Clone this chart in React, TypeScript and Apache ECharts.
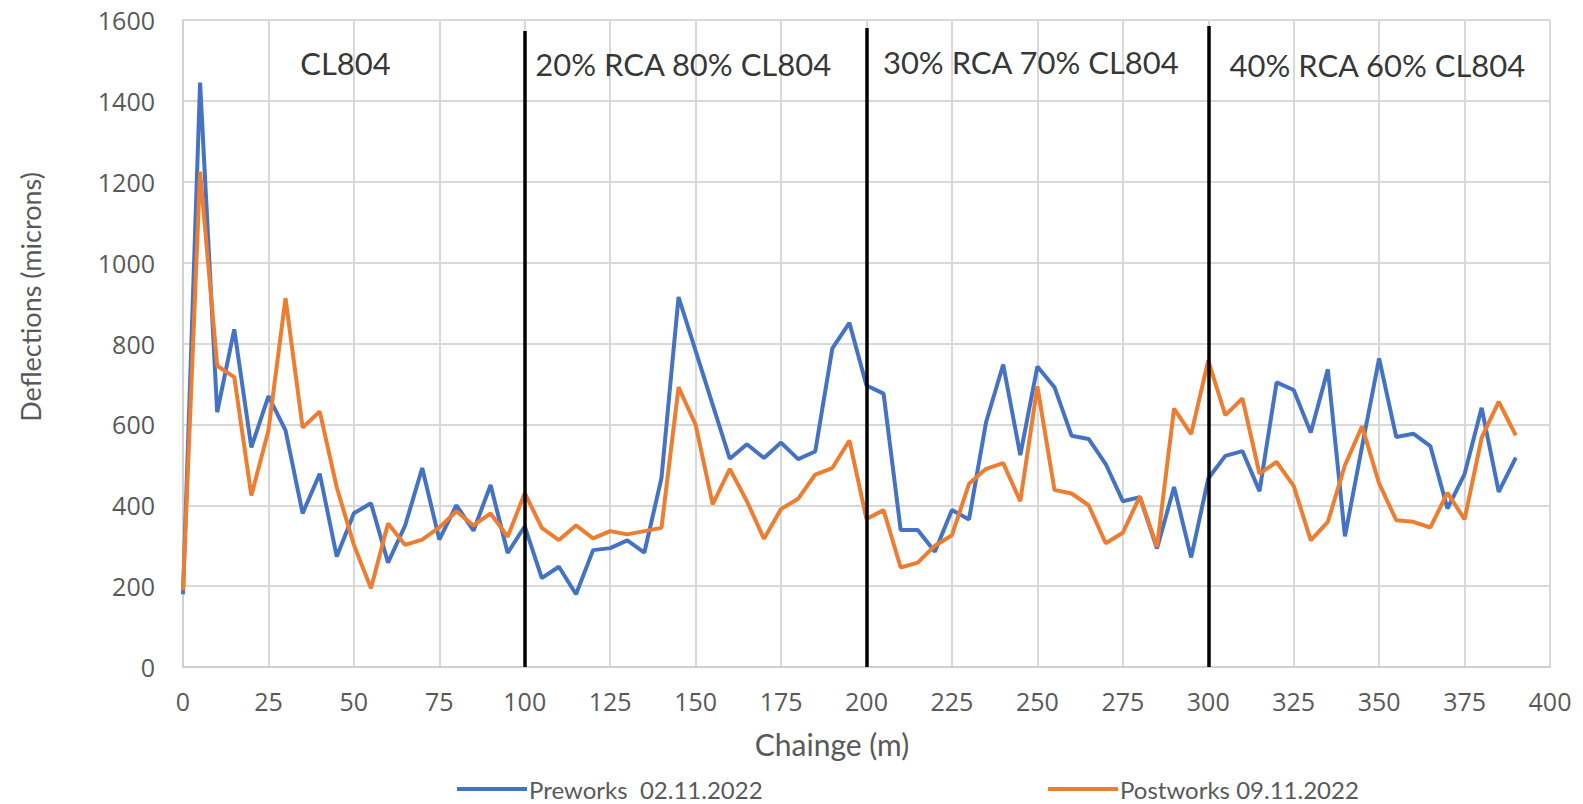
import React, { useEffect, useRef } from "react";
import * as echarts from "echarts";

const chainage: number[] = [
  0, 5, 10, 15, 20, 25, 30, 35, 40, 45, 50, 55, 60, 65, 70, 75, 80, 85, 90, 95,
  100, 105, 110, 115, 120, 125, 130, 135, 140, 145, 150, 155, 160, 165, 170, 175, 180, 185, 190, 195,
  200, 205, 210, 215, 220, 225, 230, 235, 240, 245, 250, 255, 260, 265, 270, 275, 280, 285, 290, 295,
  300, 305, 310, 315, 320, 325, 330, 335, 340, 345, 350, 355, 360, 365, 370, 375, 380, 385, 390,
];

const preworks: number[] = [
  180, 1445, 630, 835, 543, 670, 585, 380, 478, 273, 380, 405, 258, 350, 492, 315, 400, 337, 450, 282,
  348, 220, 248, 180, 289, 294, 313, 283, 467, 915, 782, 648, 515, 551, 517, 555, 514, 533, 788, 851,
  696, 676, 339, 339, 285, 388, 365, 606, 748, 524, 743, 692, 572, 564, 502, 410, 420, 293, 445, 271,
  466, 522, 534, 435, 704, 685, 580, 736, 323, 545, 763, 569, 577, 546, 392, 477, 641, 433, 518,
];

const postworks: number[] = [
  190, 1225, 745, 717, 424, 585, 912, 592, 632, 444, 302, 195, 355, 302, 315, 345, 385, 350, 380, 322,
  430, 344, 314, 350, 318, 336, 328, 336, 344, 692, 599, 402, 490, 410, 317, 391, 416, 476, 492, 560,
  366, 388, 246, 258, 300, 326, 453, 490, 504, 410, 694, 438, 429, 400, 306, 332, 422, 297, 639, 576,
  758, 623, 664, 478, 507, 448, 313, 359, 499, 595, 454, 363, 359, 345, 431, 365, 567, 656, 573,
];

const seriesNames: string[] = ["Preworks  02.11.2022", "Postworks 09.11.2022"];
const sectionDividers: number[] = [100, 200, 300];
const dividerTops: number[] = [1573, 1580, 1585];
const sectionLabels: string[] = ["CL804", "20% RCA 80% CL804", "30% RCA 70% CL804", "40% RCA 60% CL804"];
const sectionLabelX: number[] = [34.3, 103.1, 204.8, 306.2];
const sectionLabelY: number[] = [1493, 1490, 1495, 1488];

const xTicks = { min: 0, max: 400, interval: 25 };
const yTicks = { min: 0, max: 1600, interval: 200 };

export default function App() {
  const ref = useRef<HTMLDivElement>(null);

  useEffect(() => {
    if (!ref.current) return;
    const chart = echarts.init(ref.current, undefined, { renderer: "svg" });
    const tickFont = { fontFamily: "Open Sans", fontSize: 25, color: "#595959" };
    const titleFont = "Lato";
    const legendText = { fontFamily: titleFont, fontSize: 24, color: "#595959", padding: [0, 0, 0, -3] };

    chart.setOption({
      animation: false,
      backgroundColor: "#ffffff",
      grid: { left: 183, right: 33, top: 20, bottom: 137 },
      xAxis: {
        type: "value",
        min: xTicks.min,
        max: xTicks.max,
        interval: xTicks.interval,
        axisLine: { show: true, lineStyle: { color: "#d0d0d0", width: 2 } },
        axisTick: { show: false },
        axisLabel: { ...tickFont, margin: 21, formatter: (v: number) => String(v) },
        splitLine: { show: true, lineStyle: { color: "#d9d9d9", width: 2 } },
      },
      yAxis: {
        type: "value",
        min: yTicks.min,
        max: yTicks.max,
        interval: yTicks.interval,
        axisLine: { show: true, lineStyle: { color: "#d0d0d0", width: 2 } },
        axisTick: { show: false },
        axisLabel: { ...tickFont, margin: 28, formatter: (v: number) => String(v) },
        splitLine: { show: true, lineStyle: { color: "#d9d9d9", width: 2 } },
      },
      legend: [
        {
          data: [seriesNames[0]],
          left: 452,
          top: 772,
          icon: "rect",
          itemWidth: 70,
          itemHeight: 4,
          textStyle: legendText,
        },
        {
          data: [seriesNames[1]],
          left: 1043,
          top: 772,
          icon: "rect",
          itemWidth: 70,
          itemHeight: 4,
          textStyle: legendText,
        },
      ],
      graphic: [
        {
          type: "text",
          x: 30,
          y: 297,
          rotation: Math.PI / 2,
          style: {
            text: "Deflections (microns)",
            fontFamily: titleFont,
            fontSize: 27,
            fill: "#595959",
            textAlign: "center",
            textVerticalAlign: "middle",
          },
        },
        {
          type: "text",
          x: 832,
          y: 744,
          style: {
            text: "Chainge (m)",
            fontFamily: titleFont,
            fontSize: 30,
            fill: "#595959",
            textAlign: "center",
            textVerticalAlign: "middle",
          },
        },
      ],
      series: [
        {
          name: seriesNames[0],
          type: "line",
          data: chainage.map((c, i) => [c, preworks[i]]),
          symbol: "none",
          color: "#4472C4",
          lineStyle: { width: 4, color: "#4472C4" },
          markLine: {
            silent: true,
            symbol: "none",
            lineStyle: { color: "#000000", width: 3.5, type: "solid" },
            label: { show: false },
            data: sectionDividers.map((d, i) => [
              { coord: [d, 0] },
              { coord: [d, dividerTops[i]] },
            ]),
          },
        },
        {
          name: seriesNames[1],
          type: "line",
          data: chainage.map((c, i) => [c, postworks[i]]),
          symbol: "none",
          color: "#ED7D31",
          lineStyle: { width: 4, color: "#ED7D31" },
        },
        {
          name: "labels",
          type: "scatter",
          symbolSize: 0,
          silent: true,
          data: sectionLabels.map((t, i) => ({ value: [sectionLabelX[i], sectionLabelY[i]], name: t })),
          label: {
            show: true,
            position: "right",
            distance: 0,
            formatter: (p: any) => p.name,
            fontFamily: titleFont,
            fontSize: 31,
            color: "#000000",
          },
        },
      ],
    });
    return () => chart.dispose();
  }, []);

  return (
    <div
      ref={ref}
      style={{ position: "absolute", left: 0, top: 0, width: 1583, height: 804 }}
    />
  );
}
